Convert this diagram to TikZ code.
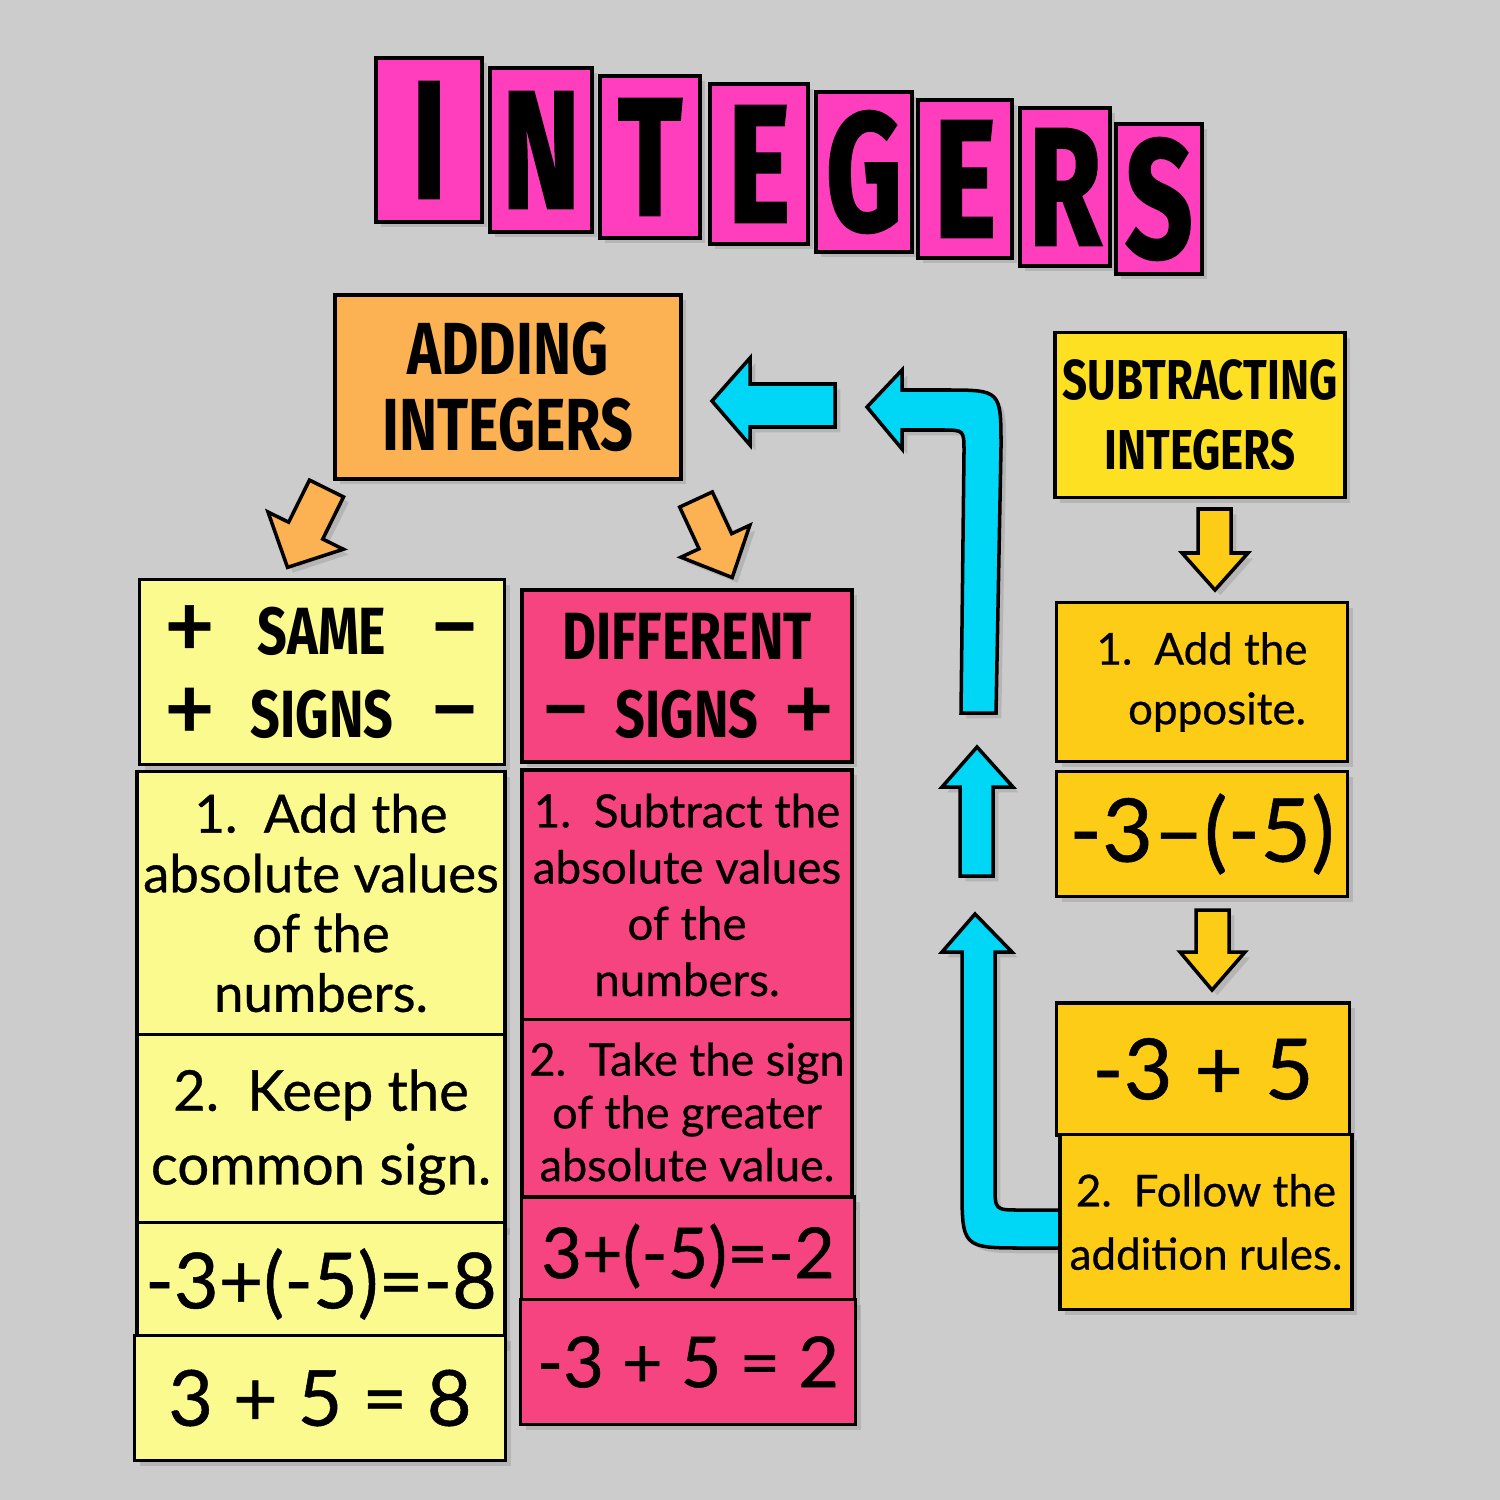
\documentclass[tikz,border=0pt]{standalone}
\usepackage{fontspec}
\usetikzlibrary{shadows}

\newfontfamily\headfont{Fira Sans}[FakeStretch=0.78]
\newfontfamily\titlefont{Fira Sans}[FakeStretch=0.7, FakeBold=1.2]
\newfontfamily\bodyfont{Lato}[FakeBold=0.6]

\definecolor{wall}{RGB}{204,204,204}
\definecolor{titlepink}{RGB}{255,62,190}
\definecolor{addorange}{RGB}{252,178,82}
\definecolor{samecream}{RGB}{250,250,142}
\definecolor{diffpink}{RGB}{246,68,128}
\definecolor{subgold}{RGB}{253,204,22}
\definecolor{sublemon}{RGB}{253,224,34}
\definecolor{arrowcyan}{RGB}{0,214,246}

\tikzset{
    card/.style={draw=black, line width=1pt, inner sep=0pt, align=center,
        drop shadow={shadow xshift=1.5pt, shadow yshift=-1.5pt, opacity=0.3}},
    titlecard/.style={card, fill=titlepink, font=\titlefont\bfseries\fontsize{48}{48}\selectfont},
    blockarrow/.style={draw=black, line width=1pt, line join=miter,
        drop shadow={shadow xshift=1.5pt, shadow yshift=-1.5pt, opacity=0.3}},
    headtext/.style={font=\headfont\bfseries\fontsize{19}{23.5}\selectfont},
    eqtext/.style={font=\bodyfont\fontsize{22}{24}\selectfont}
}

\newcommand{\leftsign}[1]{\makebox[5mm][l]{\bodyfont\fontsize{24}{24}\selectfont #1}}
\newcommand{\rightsign}[1]{\makebox[5mm][r]{\bodyfont\fontsize{24}{24}\selectfont #1}}

\begin{document}
\begin{tikzpicture}[x=0.1mm, y=-0.1mm]

    % wall
    \fill[wall] (0,0) rectangle (1500,1500);
    \useasboundingbox (0,0) rectangle (1500,1500);

    % title
    \node[titlecard, minimum width=10.6mm, minimum height=16.4mm] (tI) at (429,140) {I};
    \node[titlecard, minimum width=10.2mm, minimum height=16.4mm] (tN) at (541,150) {N};
    \node[titlecard, minimum width=10.0mm, minimum height=16.2mm] (tT) at (650,157) {T};
    \node[titlecard, minimum width=9.8mm, minimum height=16.0mm] (tE) at (759,164) {E};
    \node[titlecard, minimum width=9.6mm, minimum height=16.0mm] (tG) at (864,172) {G};
    \node[titlecard, minimum width=9.4mm, minimum height=15.8mm] (tEE) at (965,179) {E};
    \node[titlecard, minimum width=9.0mm, minimum height=15.8mm] (tR) at (1065,187) {R};
    \node[titlecard, minimum width=8.6mm, minimum height=15.0mm] (tS) at (1159,199) {S};

    % arrow from step 2 back up (goes under the card)
    \draw[blockarrow, fill=arrowcyan] (975,914) -- (1012,952) -- (995,952) -- (995,1185)
        .. controls (995,1210) .. (1020,1210) -- (1075,1210) -- (1075,1248) -- (1025,1248)
        .. controls (962,1248) .. (962,1185) -- (962,952) -- (942,952) -- cycle;

    % adding side
    \node[card, fill=addorange, minimum width=34.6mm, minimum height=18.4mm,
          font=\headfont\bfseries\fontsize{21}{21.5}\selectfont] (add) at (508,387) {ADDING\\INTEGERS};

    \node[card, fill=samecream, minimum width=36.5mm, minimum height=18.5mm, headtext] (same) at (322,672)
        {\makebox[31.4mm]{\leftsign{+}\hfill SAME\hfill\rightsign{−}}\\
         \makebox[31.4mm]{\leftsign{+}\hfill SIGNS\hfill\rightsign{−}}};
    \node[card, fill=samecream, minimum width=36.8mm, minimum height=26.3mm,
          font=\bodyfont\fontsize{15}{17}\selectfont] (samea) at (321,903)
        {1.\enspace Add the\\absolute values\\of the\\numbers.};
    \node[card, fill=samecream, minimum width=36.8mm, minimum height=19.5mm,
          font=\bodyfont\fontsize{16}{21}\selectfont] (sameb) at (321,1132)
        {2.\enspace Keep the\\common sign.};
    \node[card, fill=samecream, minimum width=36.8mm, minimum height=12.3mm, eqtext] (samec) at (321,1284)
        {-3+(-5)=-8};
    \node[card, fill=samecream, minimum width=37.1mm, minimum height=12.5mm, eqtext] (samed) at (320,1398)
        {3 + 5 = 8};

    \node[card, fill=diffpink, minimum width=33mm, minimum height=17.2mm, headtext,
          font=\headfont\bfseries\fontsize{19}{22}\selectfont] (diff) at (687,676)
        {DIFFERENT\\\makebox[29.2mm]{\leftsign{−}\hfill SIGNS\hfill\rightsign{+}}};
    \node[card, fill=diffpink, minimum width=33mm, minimum height=25mm,
          font=\bodyfont\fontsize{13}{16}\selectfont] (diffa) at (687,895)
        {1.\enspace Subtract the\\absolute values\\of the\\numbers.};
    \node[card, fill=diffpink, minimum width=33mm, minimum height=18.5mm,
          font=\bodyfont\fontsize{12.8}{15}\selectfont] (diffb) at (687,1112)
        {2.\enspace Take the sign\\of the greater\\absolute value.};
    \node[card, fill=diffpink, minimum width=33.3mm, minimum height=11.8mm,
          font=\bodyfont\fontsize{20}{22}\selectfont] (diffc) at (688,1256)
        {3+(-5)=-2};
    \node[card, fill=diffpink, minimum width=33.5mm, minimum height=12.5mm,
          font=\bodyfont\fontsize{20}{22}\selectfont] (diffd) at (688,1362)
        {-3 + 5 = 2};

    % subtracting side
    \node[card, fill=sublemon, minimum width=29mm, minimum height=16.5mm,
          font=\headfont\bfseries\fontsize{16}{20}\selectfont] (sub) at (1200,415) {SUBTRACTING\\INTEGERS};
    \node[card, fill=subgold, minimum width=29.1mm, minimum height=15.9mm,
          font=\bodyfont\fontsize{12.5}{17}\selectfont] (suba) at (1202,682)
        {1.\enspace Add the\\\hspace*{3mm}opposite.};
    \node[card, fill=subgold, minimum width=29.1mm, minimum height=12.5mm,
          font=\bodyfont\fontsize{25}{27}\selectfont] (subb) at (1202,834)
        {-3–(-5)};
    \node[card, fill=subgold, minimum width=29.3mm, minimum height=13.2mm,
          font=\bodyfont\fontsize{24}{26}\selectfont] (subc) at (1203,1069)
        {-3 + 5};
    \node[card, fill=subgold, minimum width=29.2mm, minimum height=17.5mm,
          font=\bodyfont\fontsize{12.5}{18}\selectfont] (subd) at (1206,1222)
        {2.\enspace Follow the\\addition rules.};

    % orange arrows
    \begin{scope}[shift={(326.5,488.5)}, rotate=-116.3]
        \draw[blockarrow, fill=addorange] (0,-19) -- (47,-19) -- (47,-42) -- (88,0) -- (47,42) -- (47,19) -- (0,19) -- cycle;
    \end{scope}
    \begin{scope}[shift={(696,499.5)}, rotate=-65.1]
        \draw[blockarrow, fill=addorange] (0,-18) -- (46,-18) -- (46,-38) -- (86,0) -- (46,38) -- (46,18) -- (0,18) -- cycle;
    \end{scope}

    % gold arrows
    \draw[blockarrow, fill=subgold] (1198,509) -- (1231,509) -- (1231,553) -- (1248,553) -- (1215,590)
        -- (1182,553) -- (1198,553) -- cycle;
    \draw[blockarrow, fill=subgold] (1196,910) -- (1229,910) -- (1229,952) -- (1245,952) -- (1212,990)
        -- (1180,952) -- (1196,952) -- cycle;

    % cyan arrows
    \draw[blockarrow, fill=arrowcyan] (835,384) -- (750,384) -- (750,358) -- (712,401) -- (750,445)
        -- (750,427) -- (835,427) -- cycle;
    \draw[blockarrow, fill=arrowcyan] (867,407) -- (902,370) -- (902,390) -- (945,390)
        .. controls (1001,390) .. (1001,447) -- (996,713) -- (961,713) -- (964,452)
        .. controls (964,430) .. (942,430) -- (902,430) -- (902,449) -- cycle;
    \draw[blockarrow, fill=arrowcyan] (977,747) -- (1013,787) -- (993,787) -- (993,876) -- (960,876)
        -- (960,787) -- (942,787) -- cycle;

\end{tikzpicture}
\end{document}
